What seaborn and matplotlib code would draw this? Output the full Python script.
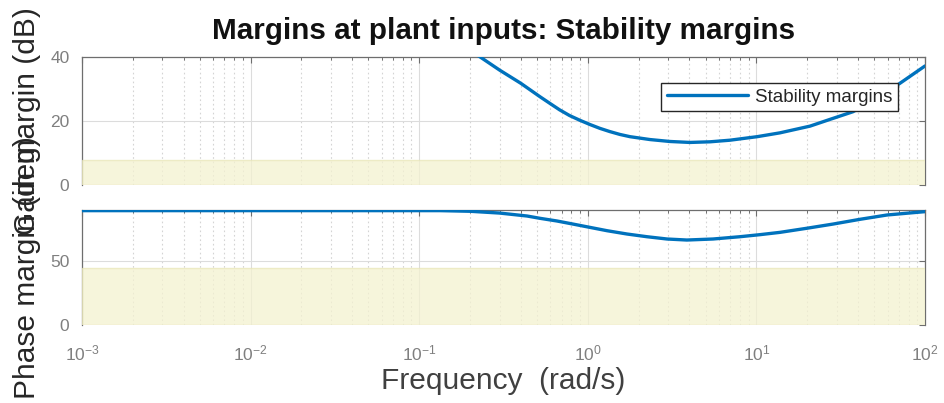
import numpy as np
import pandas as pd
import matplotlib
matplotlib.use("Agg")
import matplotlib.pyplot as plt
from matplotlib import font_manager
from matplotlib.ticker import LogLocator, NullFormatter
import seaborn as sns

# Disk-based stability margins versus frequency
freq_gain = [0.2, 0.23, 0.30, 0.40, 0.52, 0.60, 0.68, 0.78, 0.90, 1.03, 1.18,
             1.35, 1.55, 1.78, 2.34, 3.07, 4.04, 5.31, 6.97, 10.1, 13.8, 20.8,
             27.3, 37.4, 54.1, 71.1, 100.0]
gain_db = [42.1, 40.0, 35.9, 31.8, 27.6, 25.4, 23.5, 21.7, 20.2, 18.9, 17.7,
           16.7, 15.8, 15.1, 14.2, 13.6, 13.3, 13.5, 14.0, 15.1, 16.3, 18.4,
           20.5, 22.9, 27.6, 31.8, 37.2]

freq_phase = [0.001, 0.133, 0.20, 0.30, 0.436, 0.52, 0.656, 0.816, 1.03, 1.30,
              1.71, 2.24, 2.95, 3.87, 5.53, 8.00, 10.5, 13.8, 19.9, 28.5, 41.1,
              59.6, 84.9, 100.0]
phase_deg = [89.5, 89.5, 89.0, 87.6, 85.3, 83.5, 81.4, 79.0, 76.4, 73.8,
             71.2, 69.1, 67.3, 66.5, 67.3, 69.1, 70.7, 72.5, 75.7, 79.0, 82.7,
             86.1, 87.9, 88.7]

# Required margins (shaded region)
gain_target_db = 7.66
phase_target_deg = 45.0

gain_ticks = [0, 20, 40]
phase_ticks = [0, 50]

title = "Margins at plant inputs: Stability margins"
series_name = "Stability margins"

sns.set_theme(style="white")
names = {f.name for f in font_manager.fontManager.ttflist}
narrow = "Liberation Sans Narrow" if "Liberation Sans Narrow" in names else "Liberation Sans"
plt.rcParams["font.family"] = ["Liberation Sans", "DejaVu Sans"]
plt.rcParams["mathtext.default"] = "regular"

blue = "#0072BD"
spine_col = "#6e6e6e"
tick_lbl = "#7f7f7f"
fill_col = (244 / 255, 242 / 255, 208 / 255)
edge_col = "#e9e6b8"

df_gain = pd.DataFrame({"freq": freq_gain, "margin": gain_db})
df_phase = pd.DataFrame({"freq": freq_phase, "margin": phase_deg})

fig = plt.figure(figsize=(9.45, 4.03), dpi=100)
W, H = 945, 403
L, R = 82, 925
ax1 = fig.add_axes([L / W, 1 - 185 / H, (R - L) / W, 128 / H])
ax2 = fig.add_axes([L / W, 1 - 325 / H, (R - L) / W, 115 / H])


def style(ax, ylim, yticks, target, show_x):
    ax.set_xscale("log")
    ax.set_xlim(1e-3, 1e2)
    ax.set_ylim(*ylim)
    ax.set_yticks(yticks)
    ax.xaxis.set_major_locator(LogLocator(base=10, numticks=10))
    ax.xaxis.set_minor_locator(LogLocator(base=10, subs=np.arange(2, 10), numticks=20))
    ax.xaxis.set_minor_formatter(NullFormatter())
    ax.grid(which="major", color="#dcdcdc", lw=0.8, ls="-")
    ax.grid(which="minor", axis="x", color="#d4d4d4", lw=0.8, ls=(0, (1.5, 2.5)))
    ax.tick_params(which="both", direction="in", top=True, right=True,
                   color=spine_col, labelcolor=tick_lbl, labelsize=12.5)
    ax.tick_params(which="major", length=4, width=0.8)
    ax.tick_params(axis="y", which="major", pad=9)
    ax.tick_params(axis="x", which="major", pad=13)
    ax.tick_params(which="minor", length=2.5, width=0.7)
    for s in ax.spines.values():
        s.set_color(spine_col)
        s.set_linewidth(0.9)
    ax.spines["bottom"].set_visible(False)
    ax.axhspan(ylim[0], target, facecolor=fill_col, edgecolor=edge_col,
               lw=1.0, alpha=0.75, zorder=2.6)
    if not show_x:
        ax.tick_params(labelbottom=False)


sns.lineplot(data=df_gain, x="freq", y="margin", ax=ax1, color=blue, lw=2.4,
             label=series_name, zorder=3, sort=False)
sns.lineplot(data=df_phase, x="freq", y="margin", ax=ax2, color=blue, lw=2.4,
             legend=False, zorder=3, sort=False)

style(ax1, (0, 40), gain_ticks, gain_target_db, False)
style(ax2, (0, 90), phase_ticks, phase_target_deg, True)
for lbl in ax2.get_xticklabels() + ax2.get_yticklabels() + ax1.get_yticklabels():
    lbl.set_fontfamily(narrow)

for ax, text in ((ax1, "Gain margin (dB)"), (ax2, "Phase margin (deg)")):
    ax.set_ylabel(text, fontsize=21.5, color="#262626")
    ax.yaxis.label.set_verticalalignment("center")
    ax.yaxis.set_label_coords(-0.0652, 0.5)

ax1.set_xlabel("")
ax2.set_xlabel("Frequency  (rad/s)", fontsize=21.5, color="#404040",
               fontfamily=narrow, labelpad=3)

leg = ax1.legend(loc="upper right", bbox_to_anchor=(0.968, 0.797),
                 borderaxespad=0, frameon=True, fancybox=False, framealpha=1,
                 edgecolor="#262626", fontsize=13.5, handlelength=4.3,
                 handletextpad=0.4, borderpad=0.3)
leg.get_frame().set_linewidth(1.0)
leg.set_zorder(5)
for t in leg.get_texts():
    t.set_fontfamily(narrow)
    t.set_color("#262626")

fig.text((L + R) / 2 / W, 1 - 31 / H, title, ha="center", va="center",
         fontsize=21.3, fontweight="bold", color="#111111")

fig.savefig("out.png", dpi=100)
